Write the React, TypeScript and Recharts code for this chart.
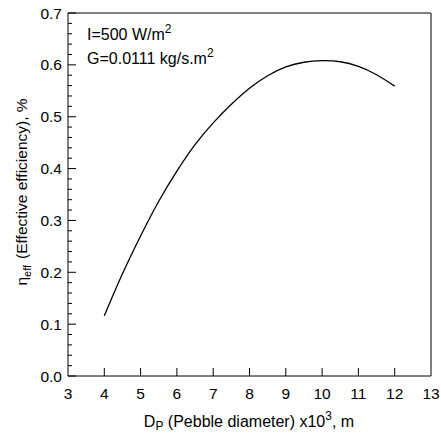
import { LineChart, Line, XAxis, YAxis, ReferenceLine } from "recharts";

// pebble diameter (x10^3 m) and effective efficiency
const diameters = [4, 4.5, 5, 5.5, 6, 6.5, 7, 7.5, 8, 8.5, 9, 9.5, 10, 10.5, 11, 11.5, 12];
const efficiency = [
  0.116, 0.197, 0.27, 0.337, 0.395, 0.446, 0.488, 0.524, 0.555, 0.579, 0.596, 0.605, 0.608,
  0.606, 0.597, 0.581, 0.559,
];

const xTicks = [3, 4, 5, 6, 7, 8, 9, 10, 11, 12, 13];
const yMajor = [0, 0.1, 0.2, 0.3, 0.4, 0.5, 0.6, 0.7];
const yTicks = Array.from({ length: 36 }, (_, i) => Math.round(i * 2) / 100);

const data = diameters.map((d, i) => ({ d, eta: efficiency[i] }));

const FONT = "'Liberation Sans', Arial, sans-serif";

function XTick({ x, y, payload }: any) {
  const v = payload.value;
  return (
    <g>
      {v !== 3 && v !== 13 && <line x1={x} x2={x} y1={y} y2={y - 8} stroke="#000" />}
      <text x={x} y={y + 23} textAnchor="middle" fontSize={15.5} fontFamily={FONT} fill="#000">
        {v}
      </text>
    </g>
  );
}

function YTick({ x, y, payload }: any) {
  const v = payload.value;
  const major = yMajor.some((m) => Math.abs(m - v) < 1e-6);
  return (
    <g>
      <line x1={x} x2={x + (major ? 8 : 4)} y1={y} y2={y} stroke="#000" />
      {major && (
        <text x={x - 6} y={y + 5.5} textAnchor="end" fontSize={15.5} fontFamily={FONT} fill="#000">
          {v.toFixed(1)}
        </text>
      )}
    </g>
  );
}

export default function App() {
  return (
    <div style={{ position: "absolute", left: 0, top: 0 }}>
      <LineChart width={441} height={434} data={data} margin={{ top: 13, right: 10, bottom: 0, left: 0 }}>
        <XAxis
          dataKey="d"
          type="number"
          domain={[3, 13]}
          ticks={xTicks}
          interval={0}
          height={58}
          tickSize={0}
          tickMargin={0}
          tickLine={false}
          axisLine={{ stroke: "#000" }}
          tick={<XTick />}
        />
        <YAxis
          type="number"
          domain={[0, 0.7]}
          ticks={yTicks}
          interval={0}
          width={68}
          tickSize={0}
          tickMargin={0}
          tickLine={false}
          axisLine={{ stroke: "#000" }}
          tick={<YTick />}
        />
        <ReferenceLine y={0.7} stroke="#000" />
        <ReferenceLine x={13} stroke="#555" strokeWidth={1.5} />
        <Line
          dataKey="eta"
          type="natural"
          stroke="#000"
          strokeWidth={1.3}
          dot={false}
          isAnimationActive={false}
        />
        <text x={87} y={40} fontSize={16} fontFamily={FONT} fill="#000">
          I=500 W/m<tspan dy={-7} fontSize={12}>2</tspan>
        </text>
        <text x={87} y={64} fontSize={16} fontFamily={FONT} fill="#000">
          G=0.0111 kg/s.m<tspan dy={-7} fontSize={12}>2</tspan>
        </text>
        <text x={249} y={427} textAnchor="middle" fontSize={16} fontFamily={FONT} fill="#000">
          D<tspan dy={3} fontSize={12}>P</tspan>
          <tspan dy={-3}> (Pebble diameter) x10</tspan>
          <tspan dy={-7} fontSize={12}>3</tspan>
          <tspan dy={7}>, m</tspan>
        </text>
        <text
          x={0}
          y={0}
          transform="translate(27,192) rotate(-90)"
          textAnchor="middle"
          fontSize={15.5}
          fontFamily={FONT}
          fill="#000"
        >
          η<tspan dy={4} fontSize={11}>eff</tspan>
          <tspan dy={-4} dx={6}>(Effective efficiency), %</tspan>
        </text>
      </LineChart>
    </div>
  );
}
